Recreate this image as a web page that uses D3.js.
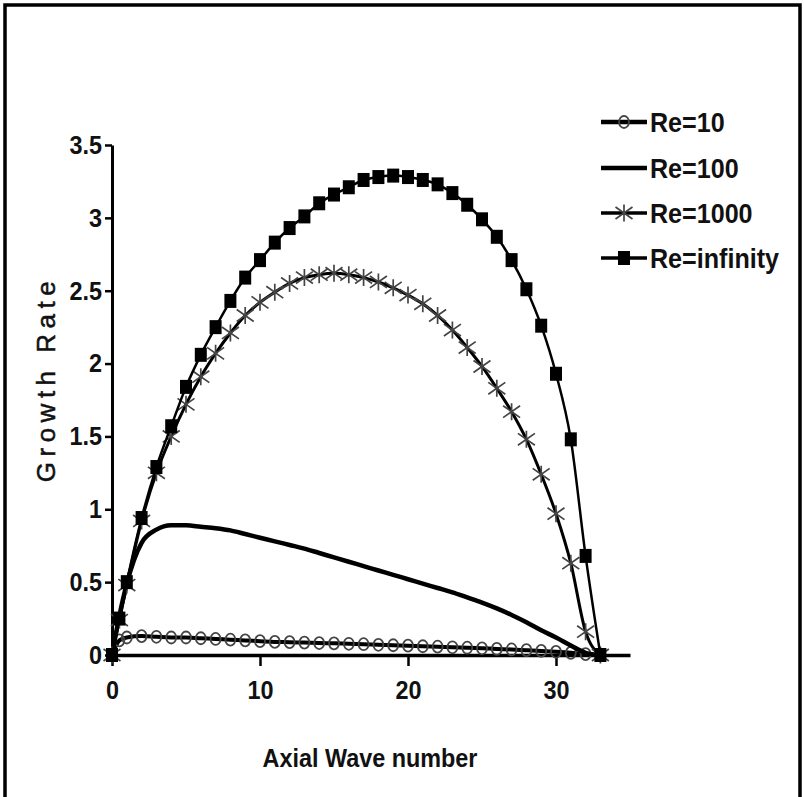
<!DOCTYPE html>
<html lang="en">
<head>
<meta charset="UTF-8">
<title>Growth Rate vs Axial Wave number</title>
<script src="https://d3js.org/d3.v7.min.js"></script>
<style>
  body { margin: 0; background: #fff; }
  svg text { font-family: "Liberation Sans", Arial, sans-serif; fill: #111; }
</style>
</head>
<body>
<div id="chart"></div>
<script>
// wave numbers where the curves were sampled
const waveNumbers = [0, 0.5, 1, 2, 3, 4, 5, 6, 7, 8, 9, 10, 11, 12, 13, 14, 15, 16, 17,
                     18, 19, 20, 21, 22, 23, 24, 25, 26, 27, 28, 29, 30, 31, 32, 33];

const re10 = [0, 0.10, 0.12, 0.13, 0.125, 0.12, 0.12, 0.115, 0.11, 0.105, 0.10, 0.095, 0.09,
              0.088, 0.085, 0.082, 0.08, 0.077, 0.074, 0.07, 0.067, 0.064, 0.06, 0.057, 0.053,
              0.05, 0.046, 0.042, 0.038, 0.033, 0.028, 0.022, 0.015, 0.006, 0];
const re100 = [0, 0.27, 0.49, 0.77, 0.86, 0.89, 0.89, 0.88, 0.87, 0.855, 0.83, 0.805, 0.78,
               0.755, 0.73, 0.70, 0.67, 0.64, 0.61, 0.58, 0.55, 0.52, 0.49, 0.46, 0.43, 0.395,
               0.36, 0.32, 0.275, 0.225, 0.17, 0.12, 0.065, 0.015, 0];
const re1000 = [0, 0.24, 0.48, 0.92, 1.25, 1.50, 1.72, 1.91, 2.07, 2.21, 2.33, 2.42, 2.49,
                2.55, 2.59, 2.61, 2.62, 2.61, 2.59, 2.56, 2.52, 2.47, 2.41, 2.33, 2.23, 2.11,
                1.98, 1.83, 1.67, 1.48, 1.24, 0.97, 0.63, 0.16, 0];
const reInf = [0, 0.25, 0.5, 0.94, 1.29, 1.57, 1.84, 2.06, 2.25, 2.43, 2.59, 2.71, 2.83,
               2.93, 3.01, 3.10, 3.16, 3.21, 3.26, 3.28, 3.29, 3.28, 3.26, 3.23, 3.17, 3.09,
               2.99, 2.87, 2.71, 2.51, 2.26, 1.93, 1.48, 0.68, 0];

const seriesNames = ["Re=10", "Re=100", "Re=1000", "Re=infinity"];
const xTicks = [0, 10, 20, 30];
const yTicks = [0, 0.5, 1, 1.5, 2, 2.5, 3, 3.5];

const W = 804, H = 797;

const svg = d3.select("#chart").append("svg")
    .attr("width", W)
    .attr("height", H);

svg.append("rect").attr("width", W).attr("height", H).attr("fill", "#fff");

// outer frame (bottom edge runs off the picture)
svg.append("rect")
    .attr("x", 5).attr("y", 5)
    .attr("width", 795).attr("height", 810)
    .attr("fill", "none")
    .attr("stroke", "#000")
    .attr("stroke-width", 3.5);

// squeeze text horizontally about its own x so it looks tall and narrow
function condense(sel, sx) {
    sel.each(function () {
        const t = d3.select(this);
        const tx = +(t.attr("x") || 0);
        t.attr("transform", `translate(${tx},0) scale(${sx},1) translate(${-tx},0)`);
    });
}

const x = d3.scaleLinear().domain([0, 35]).range([112, 630]);
const y = d3.scaleLinear().domain([0, 3.5]).range([655, 145]);

// y axis
const yAxis = svg.append("g")
    .attr("transform", `translate(${x(0)},0)`)
    .call(d3.axisLeft(y).tickValues(yTicks).tickSize(7).tickPadding(3)
        .tickFormat(d => d).tickSizeOuter(0));
yAxis.select(".domain").attr("stroke-width", 3);
yAxis.selectAll(".tick line").attr("stroke-width", 2.5);
yAxis.selectAll(".tick text")
    .attr("font-size", 26).attr("font-weight", "bold")
    .attr("font-family", "Liberation Sans, Arial, sans-serif")
    .call(condense, 0.9);

// x axis
const xAxis = svg.append("g")
    .attr("transform", `translate(0,${y(0)})`)
    .call(d3.axisBottom(x).tickValues(xTicks).tickSize(11).tickPadding(15).tickSizeOuter(0));
xAxis.select(".domain").attr("stroke-width", 3.5);
xAxis.selectAll(".tick line").attr("stroke-width", 2.5);
xAxis.selectAll(".tick text")
    .attr("font-size", 26).attr("font-weight", "bold")
    .attr("font-family", "Liberation Sans, Arial, sans-serif")
    .call(condense, 0.9);

// axis titles
svg.append("text")
    .attr("x", 370).attr("y", 767)
    .attr("text-anchor", "middle")
    .attr("font-size", 26).attr("font-weight", "bold")
    .text("Axial Wave number")
    .call(condense, 0.9);

svg.append("text")
    .attr("transform", "translate(55,379) rotate(-90)")
    .attr("text-anchor", "middle")
    .attr("font-size", 26)
    .attr("letter-spacing", 5.5)
    .attr("stroke", "#111")
    .attr("stroke-width", 0.5)
    .text("Growth Rate");

const toPoints = vals => waveNumbers.map((w, i) => [w, vals[i]]);
const line = d3.line().x(d => x(d[0])).y(d => y(d[1])).curve(d3.curveMonotoneX);

const markerGray = "#444";

function drawCircle(g, px, py) {
    g.append("ellipse").attr("cx", px).attr("cy", py).attr("rx", 5).attr("ry", 6)
        .attr("fill", "none").attr("stroke", markerGray).attr("stroke-width", 1.8);
}
function drawStar(g, px, py) {
    const s = 8.5;
    const p = `M${px},${py - s}L${px},${py + s}` +
        `M${px - s},${py - s * 0.7}L${px + s},${py + s * 0.7}` +
        `M${px - s},${py + s * 0.7}L${px + s},${py - s * 0.7}`;
    g.append("path").attr("d", p).attr("stroke", markerGray).attr("stroke-width", 1.7).attr("fill", "none");
}
function drawSquare(g, px, py) {
    g.append("rect").attr("x", px - 6).attr("y", py - 7).attr("width", 12).attr("height", 14)
        .attr("fill", "#000");
}

const series = [
    { name: seriesNames[0], vals: re10, width: 4, marker: drawCircle },
    { name: seriesNames[1], vals: re100, width: 4.5, marker: null },
    { name: seriesNames[2], vals: re1000, width: 3, marker: drawStar },
    { name: seriesNames[3], vals: reInf, width: 2.5, marker: drawSquare }
];

series.forEach(s => {
    const g = svg.append("g");
    g.append("path")
        .attr("d", line(toPoints(s.vals)))
        .attr("fill", "none")
        .attr("stroke", "#000")
        .attr("stroke-width", s.width);
    if (s.marker) {
        toPoints(s.vals).forEach(d => s.marker(g, x(d[0]), y(d[1])));
    }
});

// legend
const legendY = [122, 168, 213, 258];
series.forEach((s, i) => {
    const g = svg.append("g");
    const ly = legendY[i];
    g.append("line")
        .attr("x1", 601).attr("x2", 647)
        .attr("y1", ly).attr("y2", ly)
        .attr("stroke", "#000")
        .attr("stroke-width", i < 2 ? 4.5 : 3.5);
    if (s.marker) s.marker(g, 624, ly);
    g.append("text")
        .attr("x", 650).attr("y", ly + 10)
        .attr("font-size", 27).attr("font-weight", "bold")
        .text(s.name)
        .call(condense, 0.93);
});
</script>
</body>
</html>
